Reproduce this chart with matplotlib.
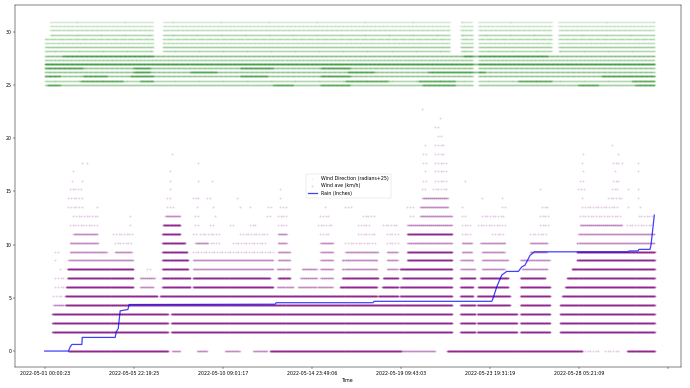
import numpy as np
import matplotlib.pyplot as plt

# ---------------- x axis: sample index, labelled every 2000 samples ----------------
tick_step = 2000
tick_labels = ['2022-05-01 00:00:23', '2022-05-05 22:19:25', '2022-05-10 09:01:17',
               '2022-05-14 23:49:06', '2022-05-19 09:43:03', '2022-05-23 19:31:19',
               '2022-05-28 05:21:09', '']
n_samples = 13700

# ---------------- rain (cumulative, inches) : breakpoints ----------------
rain_idx = [0, 534, 573, 611, 835, 842, 1583, 1605, 1650, 1695, 1868, 1897,
            5175, 5197, 7375, 7397, 10040, 10069, 10152, 10264, 10376, 10637,
            10713, 10787, 10900, 10996, 13100, 13122, 13324, 13346, 13593,
            13615, 13645, 13690]
rain_val = [0, 0, 0.4, 0.62, 0.62, 1.28, 1.28, 1.8, 2.1, 3.78, 3.9, 4.37,
            4.4, 4.54, 4.54, 4.67, 4.67, 4.95, 6.04, 7.14, 7.48, 7.48,
            7.9, 8.07, 9.0, 9.32, 9.32, 9.4, 9.4, 9.55, 9.55,
            9.95, 11.05, 12.77]

# ---------------- wind ave (km/h): observed runs (level, first, last, every n-th) ----------------
D, M, S = 5, 15, 60

calm_runs = [(0, 530, 2770, D), (0, 2860, 3040, M), (0, 3420, 3650, M), (0, 4050, 4390, M),
             (0, 4680, 5000, M), (0, 5060, 8000, D), (0, 8000, 8770, M), (0, 9040, 12070, D),
             (0, 12130, 12430, S), (0, 12580, 12920, S), (0, 13080, 13700, D)]

low_levels = [1.83, 2.66, 3.49]
low_spans = [(170, 2770), (2840, 9150), (9330, 9670), (9710, 10610), (10680, 11350), (11570, 13700)]
low_runs = [(4.32, 190, 420, M), (4.32, 460, 9150, D), (4.32, 9330, 9670, D), (4.32, 9710, 10450, D),
            (4.32, 10680, 11350, D), (4.32, 11570, 13700, D)]

mid_runs = [
    (5.16, 190, 420, S), (5.16, 460, 2530, D), (5.16, 2590, 7460, D), (5.16, 7490, 7940, D),
    (5.16, 7980, 9150, D), (5.16, 9330, 9620, D), (5.16, 9710, 10450, D), (5.16, 10680, 11350, D),
    (5.16, 11620, 13700, D),
    (6.0, 240, 420, S), (6.0, 480, 1990, D), (6.0, 2140, 2440, M), (6.0, 2640, 3270, D),
    (6.0, 3330, 5130, D), (6.0, 5220, 5580, M), (6.0, 5690, 6120, M), (6.0, 6140, 6480, M),
    (6.0, 6630, 7460, D), (6.0, 7580, 7940, D), (6.0, 7980, 9150, D), (6.0, 9330, 9620, D),
    (6.0, 9730, 10410, D), (6.0, 10680, 11350, D), (6.0, 11690, 13700, D),
    (6.84, 240, 420, S), (6.84, 510, 1990, D), (6.84, 2140, 2480, M), (6.84, 2640, 3270, D),
    (6.84, 3330, 5060, D), (6.84, 5240, 5510, D), (6.84, 5740, 6120, M), (6.84, 6190, 6480, M),
    (6.84, 6680, 7490, D), (6.84, 7600, 7940, D), (6.84, 8030, 9150, D), (6.84, 9330, 9670, D),
    (6.84, 9780, 10410, D), (6.84, 10680, 11240, D), (6.84, 11730, 13700, D),
    (7.68, 350, 350, 1), (7.68, 510, 1990, D), (7.68, 2300, 2370, S), (7.68, 2640, 3220, D),
    (7.68, 3330, 5130, M), (7.68, 5220, 5510, M), (7.68, 5780, 6120, M), (7.68, 6190, 6480, M),
    (7.68, 6680, 7460, M), (7.68, 7690, 7940, M), (7.68, 7980, 9150, D), (7.68, 9330, 9670, M),
    (7.68, 9820, 10340, M), (7.68, 10720, 11300, M), (7.68, 11840, 13700, D),
    (8.51, 240, 240, 1), (8.51, 530, 1990, M), (8.51, 2640, 3220, D), (8.51, 3330, 5130, M),
    (8.51, 5240, 5510, M), (8.51, 6190, 6480, M), (8.51, 6680, 7460, M), (8.51, 7690, 7940, M),
    (8.51, 8140, 9150, D), (8.51, 9330, 9620, M), (8.51, 9820, 10410, M), (8.51, 10680, 11350, M),
    (8.51, 11950, 13700, D),
]

high_runs = [
    (9.35, 240, 350, S), (9.35, 570, 1400, M), (9.35, 1580, 1960, M), (9.35, 2640, 3200, D),
    (9.35, 3330, 5130, S), (9.35, 5240, 5510, M), (9.35, 6190, 6480, M), (9.35, 6750, 7490, M),
    (9.35, 7690, 7940, M), (9.35, 8140, 9150, D), (9.35, 9370, 9600, M), (9.35, 9820, 10340, M),
    (9.35, 10900, 11280, M), (9.35, 11950, 13700, D),
    (10.18, 570, 1200, M), (10.18, 1580, 1960, S), (10.18, 2640, 3150, D), (10.18, 3380, 3650, M),
    (10.18, 3670, 3940, S), (10.18, 4230, 5000, S), (10.18, 5240, 5440, M), (10.18, 6190, 6480, M),
    (10.18, 6750, 7460, S), (10.18, 7690, 7940, S), (10.18, 8140, 9150, M), (10.18, 9370, 9600, M),
    (10.18, 9780, 10340, M), (10.18, 10900, 11300, M), (10.18, 11950, 13700, M),
    (11.0, 640, 1180, M), (11.0, 1540, 1960, S), (11.0, 2640, 3040, D), (11.0, 3330, 3420, S),
    (11.0, 3490, 3940, S), (11.0, 4390, 5000, S), (11.0, 5240, 5440, M), (11.0, 6190, 6410, S),
    (11.0, 7040, 7420, S), (11.0, 7690, 7940, S), (11.0, 8140, 9150, D), (11.0, 9370, 9600, S),
    (11.0, 10050, 10340, S), (11.0, 10900, 11300, S), (11.0, 11980, 13700, M),
    (11.85, 570, 1200, S), (11.85, 1920, 1920, 1), (11.85, 2660, 3040, D), (11.85, 3380, 3490, S),
    (11.85, 3715, 3830, S), (11.85, 4160, 4230, S), (11.85, 4610, 4730, S), (11.85, 5240, 5440, S),
    (11.85, 6140, 6450, S), (11.85, 7040, 7310, S), (11.85, 7600, 7940, S), (11.85, 8140, 9150, M),
    (11.85, 9370, 9600, S), (11.85, 9730, 10340, S), (11.85, 11120, 11300, S), (11.85, 12020, 12970, M),
    (11.85, 13080, 13640, S),
    (12.7, 640, 1180, S), (12.7, 1920, 1920, 1), (12.7, 2710, 3040, M), (12.7, 3380, 3490, S),
    (12.7, 3830, 3830, 1), (12.7, 5000, 5110, S), (12.7, 5240, 5440, S), (12.7, 6190, 6410, S),
    (12.7, 7150, 7420, S), (12.7, 8210, 8320, S), (12.7, 8430, 9150, M), (12.7, 9370, 9440, S),
    (12.7, 9820, 10340, S), (12.7, 11120, 11300, S), (12.7, 12020, 12970, S), (12.7, 13340, 13640, S),
]

gust_runs = [
    (13.5, 530, 860, S), (13.5, 1180, 1180, 1), (13.5, 2750, 2880, S), (13.5, 3420, 3420, 1),
    (13.5, 3790, 3790, 1), (13.5, 4390, 4390, 1), (13.5, 4610, 4610, 1), (13.5, 5020, 5110, S),
    (13.5, 5290, 5440, S), (13.5, 6300, 6300, 1), (13.5, 6750, 6900, S), (13.5, 8140, 8270, S),
    (13.5, 8430, 9060, M), (13.5, 9370, 9370, 1), (13.5, 10270, 10380, S), (13.5, 11170, 11300, S),
    (13.5, 12070, 12880, S), (13.5, 13100, 13100, 1), (13.5, 13370, 13370, 1),
    (14.35, 530, 860, S), (14.35, 2750, 2820, S), (14.35, 3330, 3450, S), (14.35, 3650, 3760, S),
    (14.35, 4320, 4320, 1), (14.35, 5290, 5290, 1), (14.35, 8480, 9060, M), (14.35, 9820, 9820, 1),
    (14.35, 10270, 10270, 1), (14.35, 12070, 12070, 1), (14.35, 12650, 12970, S), (14.35, 13320, 13320, 1),
    (15.2, 570, 840, S), (15.2, 2820, 2820, 1), (15.2, 5290, 5290, 1), (15.2, 8480, 8590, S),
    (15.2, 8720, 9060, S), (15.2, 11120, 11120, 1), (15.2, 11980, 12130, S), (15.2, 12740, 12880, S),
    (15.2, 13100, 13100, 1), (15.2, 13320, 13320, 1),
    (16.0, 620, 620, 1), (16.0, 840, 840, 1), (16.0, 2820, 2820, 1), (16.0, 3450, 3450, 1),
    (16.0, 3760, 3760, 1), (16.0, 8500, 8590, S), (16.0, 8770, 9060, S), (16.0, 9440, 9440, 1),
    (16.0, 12020, 12130, S), (16.0, 12760, 12880, S),
    (16.9, 640, 640, 1), (16.9, 2820, 2820, 1), (16.9, 8540, 8540, 1), (16.9, 8770, 9040, S),
    (16.9, 12090, 12090, 1), (16.9, 12810, 12810, 1), (16.9, 13320, 13320, 1),
    (17.7, 840, 840, 1), (17.7, 950, 950, 1), (17.7, 3450, 3450, 1), (17.7, 8500, 8610, S),
    (17.7, 8770, 9040, S), (17.7, 12070, 12070, 1), (17.7, 12760, 12880, S), (17.7, 12970, 12970, 1),
    (17.7, 13320, 13320, 1),
    (18.5, 2860, 2860, 1), (18.5, 8500, 8610, S), (18.5, 8770, 8990, S), (18.5, 12090, 12090, 1),
    (18.5, 12880, 12880, 1),
    (19.35, 8540, 8540, 1), (19.35, 8770, 8990, S), (19.35, 12740, 12740, 1),
    (20.2, 8830, 8930, S), (21.0, 8770, 8880, S), (21.9, 8880, 8930, S), (22.7, 8480, 8480, 1),
]

# ---------------- wind direction (radians + 25): 16 compass rows ----------------
dir_rows = [25.0, 25.39, 25.79, 26.18, 26.57, 26.96, 27.36, 27.75,
            28.14, 28.53, 28.93, 29.32, 29.71, 30.11, 30.5, 30.89]
dir_every = [9, 11, 8, 8, 8, 6, 10, 7, 11, 9, 14, 12, 11, 14, 18, 22]
dir_gaps_upper = [(2440, 2640), (9100, 9330), (11390, 11530)]
dir_gaps_all = [(9620, 9730)]
dir_heavy = [
    (25.0, 60, 350), (25.0, 5130, 5580), (25.0, 6190, 6860), (25.0, 8480, 9220),
    (25.0, 11980, 12430), (25.0, 13260, 13700),
    (25.39, 800, 1760), (25.39, 2140, 2440), (25.39, 6750, 7710), (25.39, 8390, 9220),
    (25.39, 10630, 11390), (25.39, 13190, 13700),
    (25.79, 10, 350), (25.79, 860, 1400), (25.79, 1920, 2440), (25.79, 4390, 5000),
    (25.79, 6190, 6860), (25.79, 12500, 13700),
    (26.18, 1990, 2370), (26.18, 3270, 3870), (26.18, 6800, 7400), (26.18, 8610, 9890),
    (26.57, 10, 860), (26.57, 1990, 2370), (26.57, 4390, 5130), (26.57, 6190, 6860),
    (26.96, 0, 13700), (27.75, 400, 2440), (27.75, 9400, 11300),
]


def expand(runs):
    xs, ys = [], []
    for lvl, a, b, step in runs:
        idx = np.arange(a, b + 1, step)
        xs.append(idx)
        ys.append(np.full(idx.size, lvl, dtype=float))
    return np.concatenate(xs), np.concatenate(ys)


# direction points
dx, dy = [], []
for k, (row, every) in enumerate(zip(dir_rows, dir_every)):
    idx = np.arange(0 if k < 12 else 120, n_samples, every)
    keep = np.ones(idx.size, bool)
    for a, b in dir_gaps_all + (dir_gaps_upper if k >= 8 else []):
        keep &= ~((idx >= a) & (idx <= b))
    dx.append(idx[keep])
    dy.append(np.full(keep.sum(), row))
hx, hy = expand([(r, a, b, 7) for r, a, b in dir_heavy])
dx = np.concatenate(dx + [hx])
dy = np.concatenate(dy + [hy])

# wind ave points
runs = calm_runs + [(l, a, b, D) for l in low_levels for a, b in low_spans] + low_runs \
    + mid_runs + high_runs + gust_runs
wx, wy = expand(runs)

# ---------------- plot ----------------
plt.rcParams['font.size'] = 3.4
fig = plt.figure(figsize=(6.9, 3.88), dpi=100)
ax = fig.add_axes([0.0222, 0.0549, 0.987 - 0.0222, 0.987 - 0.0549])

ax.scatter(dx, dy, s=2.0, c='green', alpha=0.09, linewidths=0, label='Wind Direction (radians+25)')
ax.scatter(wx, wy, s=2.0, c='purple', alpha=0.2, linewidths=0, label='Wind ave (km/h)')
ax.plot(rain_idx, rain_val, color='blue', alpha=0.75, lw=0.9, label='Rain (Inches)')

ax.set_xticks(np.arange(len(tick_labels)) * tick_step)
ax.set_xticklabels(tick_labels)
ax.set_xlim(-660, 14290)
ax.set_ylim(-1.47, 32.5)
ax.set_xlabel('Time', labelpad=2)
ax.tick_params(length=1.3, width=0.3, pad=1.5)
for sp in ax.spines.values():
    sp.set_linewidth(0.35)

leg = ax.legend(loc='center', fontsize=3.4)
leg.get_frame().set_linewidth(0.3)

fig.savefig('out.png', dpi=100)
